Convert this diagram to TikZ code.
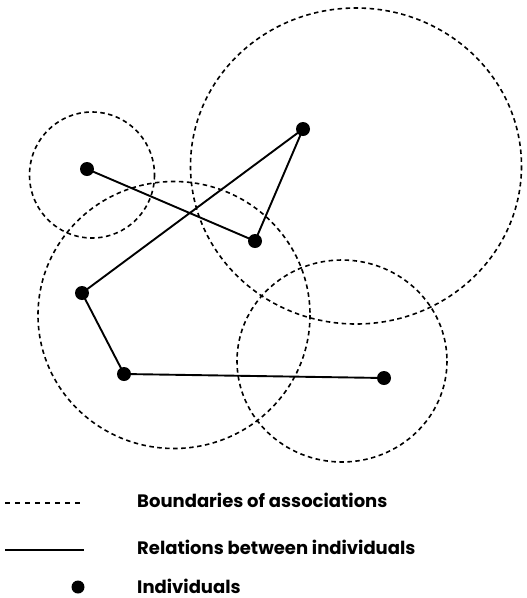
\documentclass[tikz,border=0pt]{standalone}
\usepackage{fontspec}
\setmainfont{Poppins}
\tikzset{
    boundary/.style = {dash pattern=on 4.5pt off 3.5pt, line width=1.6pt},
    relation/.style = {line width=1.9pt},
    indiv/.style = {circle, fill=black, inner sep=0pt, minimum size=14pt},
    legendtext/.style = {anchor=west, inner sep=0pt, font=\bfseries\fontsize{18}{21}\selectfont}
}
\begin{document}
\begin{tikzpicture}[x=1pt, y=-1pt]
        \useasboundingbox (0, 0) rectangle (527, 598);
        % boundaries of associations
        \draw[boundary] (92, 175) circle [x radius=62.5, y radius=63];
        \draw[boundary] (356, 166) circle [x radius=165.5, y radius=158];
        \draw[boundary] (174, 315) circle [x radius=136, y radius=133.5];
        \draw[boundary] (342, 361) circle [x radius=105, y radius=101];
        % individuals
        \node[indiv] (a) at (87, 169) {};
        \node[indiv] (b) at (303, 129) {};
        \node[indiv] (c) at (255, 241) {};
        \node[indiv] (d) at (82, 293) {};
        \node[indiv] (e) at (124, 374) {};
        \node[indiv] (f) at (384, 378) {};
        % relations
        \draw[relation] (a.center) -- (c.center) -- (b.center) -- (d.center) -- (e.center) -- (f.center);
        % legend
        \coordinate (l1a) at (5, 503);
        \coordinate (l1b) at (84, 503);
        \coordinate (l2a) at (5, 550);
        \coordinate (l2b) at (84, 550);
        \draw[line width=1.3pt, dash pattern=on 5pt off 5pt] (l1a) -- (l1b);
        \draw[line width=1.5pt] (l2a) -- (l2b);
        \node[indiv, minimum size=13pt] (ldot) at (78, 587) {};
        \node[legendtext] (t1) at (137, 500) {Boundaries of associations};
        \node[legendtext] (t2) at (137, 547) {Relations between individuals};
        \node[legendtext] (t3) at (137, 586) {Individuals};
\end{tikzpicture}
\end{document}
